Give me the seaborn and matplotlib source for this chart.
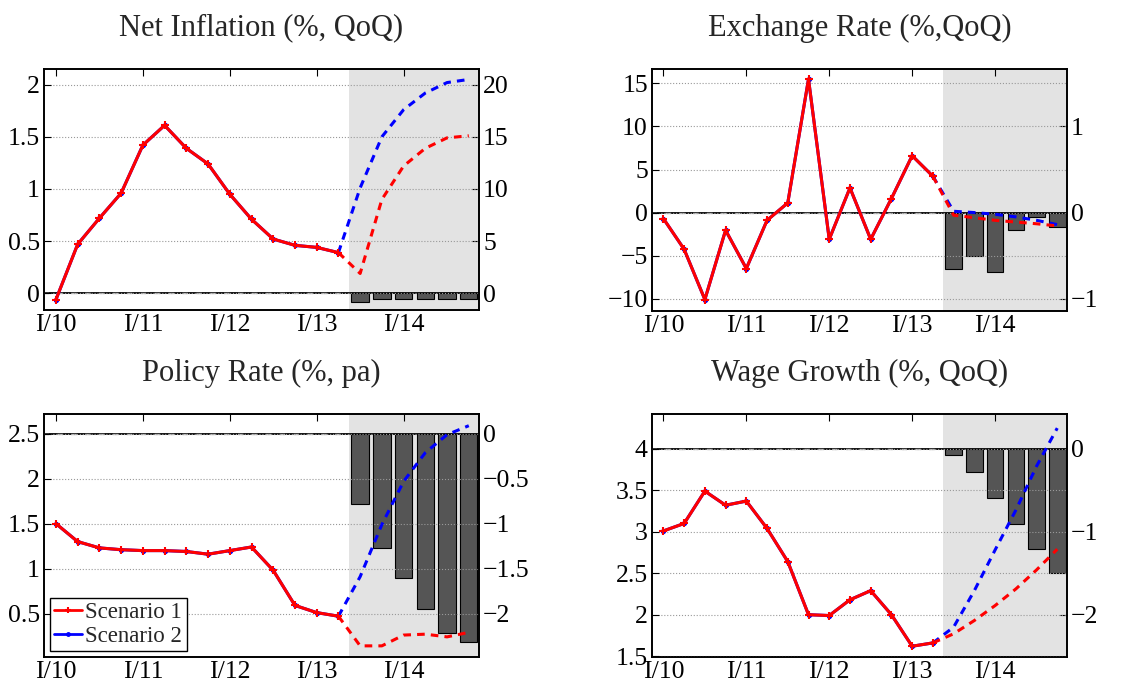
import numpy as np
import matplotlib
matplotlib.use("Agg")
import matplotlib.pyplot as plt
from matplotlib.ticker import FuncFormatter
from matplotlib.lines import Line2D
import seaborn as sns

# quarters I/10 .. IV/14 (history to II/13, forecast III/13 .. IV/14)
quarters = np.arange(20)
tick_pos = [0, 4, 8, 12, 16]
tick_labels = ["I/10", "I/11", "I/12", "I/13", "I/14"]
hist_x = quarters[:14]
fcst_x = quarters[13:]
bar_x = quarters[14:]

# Net inflation
infl_hist = [-0.06, 0.47, 0.72, 0.96, 1.42, 1.61, 1.39, 1.24, 0.95, 0.71, 0.52, 0.46, 0.44, 0.39]
infl_s1 = [0.39, 0.19, 0.90, 1.22, 1.39, 1.49, 1.51]
infl_s2 = [0.39, 1.01, 1.50, 1.76, 1.92, 2.02, 2.05]
infl_bars = [-0.86, -0.58, -0.55, -0.55, -0.55, -0.55]

# Exchange rate
fx_hist = [-0.7, -4.26, -10.1, -2.05, -6.5, -0.9, 1.12, 15.5, -3.1, 2.87, -3.1, 1.63, 6.6, 4.22]
fx_s1 = [4.22, -0.3, -0.6, -0.9, -1.1, -1.3, -1.55]
fx_s2 = [4.22, 0.15, 0.0, -0.2, -0.5, -0.9, -1.4]
fx_bars = [-0.66, -0.50, -0.69, -0.20, -0.05, -0.17]

# Policy rate
rate_hist = [1.50, 1.30, 1.23, 1.21, 1.20, 1.20, 1.19, 1.16, 1.20, 1.24, 0.98, 0.59, 0.51, 0.47]
rate_s1 = [0.47, 0.14, 0.14, 0.26, 0.27, 0.24, 0.29]
rate_s2 = [0.47, 0.91, 1.49, 1.97, 2.29, 2.49, 2.59]
rate_bars = [-0.78, -1.27, -1.60, -1.955, -2.22, -2.32]

# Wage growth
wage_hist = [3.01, 3.10, 3.49, 3.32, 3.37, 3.04, 2.64, 2.00, 1.99, 2.18, 2.29, 2.00, 1.62, 1.66]
wage_s1 = [1.66, 1.77, 1.93, 2.11, 2.31, 2.54, 2.79]
wage_s2 = [1.66, 1.85, 2.29, 2.78, 3.26, 3.79, 4.25]
wage_bars = [-0.08, -0.28, -0.59, -0.91, -1.21, -1.50]

sns.set_style("white")
plt.rcParams["font.family"] = ["Liberation Serif", "DejaVu Serif"]
plt.rcParams["axes.unicode_minus"] = True

fig = plt.figure(figsize=(11.36, 6.81), dpi=100)

W, H = 1136, 681
def box(l, r, t, b):
    return [l / W, 1 - b / H, (r - l) / W, (b - t) / H]

panels = [
    dict(title="Net Inflation (%, QoQ)", pos=box(44, 479, 69, 310),
         hist=infl_hist, s1=infl_s1, s2=infl_s2, bars=infl_bars,
         ylim=(-0.16, 2.15), yticks=[0, 0.5, 1, 1.5, 2],
         off=0.0, scale=10.0, rticks=[0, 5, 10, 15, 20]),
    dict(title="Exchange Rate (%,QoQ)", pos=box(652, 1067, 69, 311),
         hist=fx_hist, s1=fx_s1, s2=fx_s2, bars=fx_bars,
         ylim=(-11.43, 16.67), yticks=[-10, -5, 0, 5, 10, 15],
         off=0.0, scale=0.1, rticks=[-1, 0, 1]),
    dict(title="Policy Rate (%, pa)", pos=box(44, 479, 414, 657),
         hist=rate_hist, s1=rate_s1, s2=rate_s2, bars=rate_bars,
         ylim=(0.016, 2.72), yticks=[0.5, 1, 1.5, 2, 2.5],
         off=2.5, scale=1.0, rticks=[-2, -1.5, -1, -0.5, 0]),
    dict(title="Wage Growth (%, QoQ)", pos=box(652, 1067, 414, 657),
         hist=wage_hist, s1=wage_s1, s2=wage_s2, bars=wage_bars,
         ylim=(1.49, 4.42), yticks=[1.5, 2, 2.5, 3, 3.5, 4],
         off=4.0, scale=1.0, rticks=[-2, -1, 0]),
]

fmt = FuncFormatter(lambda v, p: ("%g" % v).replace("-", "\u2212"))

for i, p in enumerate(panels):
    ax = fig.add_axes(p["pos"])
    ax2 = ax.twinx()

    # shaded forecast window and bars on the right axis
    ax2.axvspan(13.47, 19.6, color="#e3e3e3", zorder=0, lw=0)
    ax2.bar(bar_x, p["bars"], width=0.8, color="#555555", edgecolor="black",
            linewidth=0.8, zorder=2)
    ax2.axhline(0, color="black", lw=1.3, zorder=3)
    ax2.plot([-0.6, 13.47], [0, 0], color="#bbbbbb", lw=1.0, ls=(0, (4, 6)), zorder=4)
    lo, hi = p["ylim"]
    ax2.set_ylim((lo - p["off"]) * p["scale"], (hi - p["off"]) * p["scale"])
    ax2.set_yticks(p["rticks"])
    ax2.yaxis.set_major_formatter(fmt)

    ax.set_zorder(ax2.get_zorder() + 1)
    ax.patch.set_visible(False)

    # history (both scenarios equal) and forecasts
    sns.lineplot(x=hist_x, y=p["hist"], ax=ax, color="blue", marker=".",
                 markersize=6, markeredgecolor="blue", linewidth=2.2,
                 legend=False, zorder=5)
    sns.lineplot(x=hist_x, y=p["hist"], ax=ax, color="red", marker="+",
                 markersize=6, markeredgewidth=1.5, markeredgecolor="red",
                 linewidth=2.2, legend=False, zorder=6)
    sns.lineplot(x=fcst_x, y=p["s2"], ax=ax, color="blue", linewidth=2.2,
                 linestyle=(0, (2.5, 2)), legend=False, zorder=5)
    sns.lineplot(x=fcst_x, y=p["s1"], ax=ax, color="red", linewidth=2.2,
                 linestyle=(0, (2.5, 2)), legend=False, zorder=6)

    ax.set_ylim(lo, hi)
    ax.set_yticks(p["yticks"])
    ax.yaxis.set_major_formatter(fmt)
    ax.set_xlim(-0.55, 19.47)
    ax.set_xticks(tick_pos)
    ax.set_xticklabels(tick_labels)
    ax.yaxis.grid(True, color="#999999", ls=":", lw=0.8)
    ax.set_axisbelow(True)
    ax.set_title(p["title"], fontsize=22, pad=24)

    for a in (ax, ax2):
        for s in a.spines.values():
            s.set_color("black")
            s.set_linewidth(1.2)
        a.tick_params(direction="in", labelsize=18.5, length=5, width=0.8, colors="black")
    ax.tick_params(axis="x", top=True, pad=3)
    ax.tick_params(axis="y", left=True, right=False, pad=3)
    ax2.tick_params(axis="y", right=True, pad=3)
    ax.set_xlabel("")
    ax.set_ylabel("")

    if i == 2:
        handles = [
            Line2D([], [], color="red", marker="+", markersize=5, markeredgewidth=1.5, lw=2),
            Line2D([], [], color="blue", marker=".", markersize=5, lw=2),
        ]
        leg = ax.legend(handles, ["Scenario 1", "Scenario 2"], loc="lower left",
                        fontsize=16.5, frameon=True, fancybox=False, framealpha=1,
                        edgecolor="black", handlelength=1.2, handletextpad=0.15,
                        borderpad=0.2, labelspacing=0.1, borderaxespad=0.25)
        leg.get_frame().set_linewidth(1.0)

fig.savefig("out.png", dpi=100)
